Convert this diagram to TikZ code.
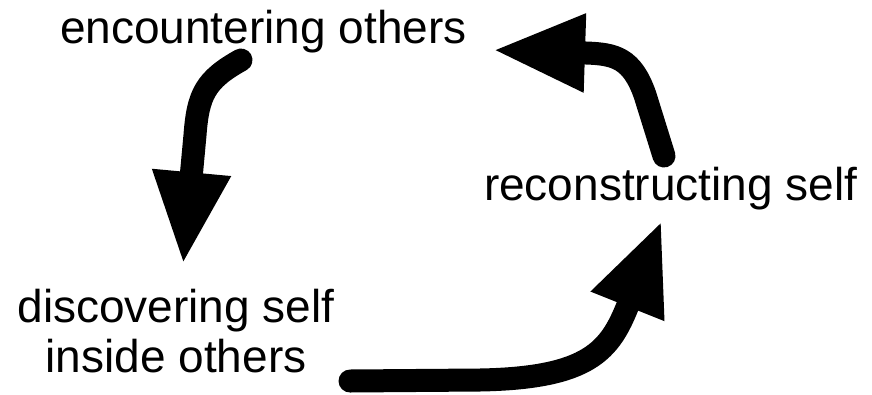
\documentclass[tikz,border=0pt]{standalone}
\usepackage{fontspec}
\setmainfont{Liberation Sans}
\usetikzlibrary{arrows.meta}
\tikzset{
  lbl/.style={font=\fontsize{46}{50}\selectfont, inner sep=0pt, outer sep=0pt},
  flow/.style={line width=23pt, line cap=round, -{Triangle[length=93pt,width=72pt]}}
}
\begin{document}
\begin{tikzpicture}[x=1pt,y=-1pt]
\useasboundingbox (0,0) rectangle (872,394);
\node[lbl, anchor=base west] (enc) at (60,43) {encountering others};
\node[lbl, anchor=base, align=center] (disc) at (176,372) {discovering self\\inside others};
\node[lbl, anchor=base west] (rec) at (484,200) {reconstructing self};
% connector ends
\coordinate (aS) at (241,60);
\coordinate (aE) at (183,265);
\coordinate (bS) at (350,381);
\coordinate (bE) at (662,220);
\coordinate (cS) at (664,156);
\coordinate (cE) at (492,50);
\draw[flow] (aS) .. controls (205,80) and (198,95) .. (195,135) -- (aE);
\draw[flow] (bS) -- (480,380) .. controls (590,378) and (610,350) .. (628,305) -- (bE);
\draw[flow] (cS) -- (645,95) .. controls (632,58) and (615,54) .. (586,53) -- (cE);
\end{tikzpicture}
\end{document}
